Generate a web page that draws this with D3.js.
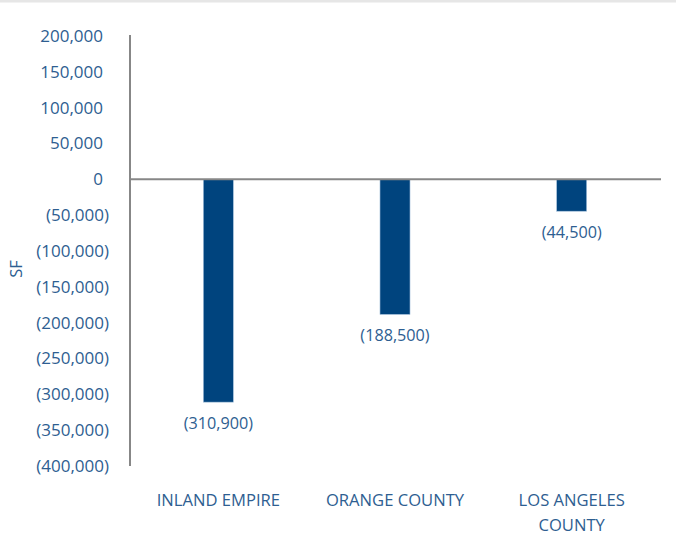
<!DOCTYPE html>
<html>
<head>
<meta charset="utf-8">
<script src="https://cdn.jsdelivr.net/npm/d3@7"></script>
<style>
  html, body { margin: 0; padding: 0; background: #fff; }
  svg { display: block; }
  text { font-family: "Open Sans", "DejaVu Sans", sans-serif; font-weight: 400; fill: #2e5e91; }
</style>
</head>
<body>
<svg id="chart" width="676" height="539"></svg>
<script>
// Net absorption by market (square feet)
const categories = ["INLAND EMPIRE", "ORANGE COUNTY", "LOS ANGELES COUNTY"];
const categoryLines = [["INLAND EMPIRE"], ["ORANGE COUNTY"], ["LOS ANGELES", "COUNTY"]];
const values = [-310900, -188500, -44500];
const tickValues = [200000, 150000, 100000, 50000, 0, -50000, -100000, -150000, -200000, -250000, -300000, -350000, -400000];

const W = 676, H = 539;
const margin = { top: 36, right: 16, bottom: 73, left: 130 };
const svg = d3.select("#chart");

// thin grey band along the top edge
svg.append("rect").attr("x", 0).attr("y", 0).attr("width", W).attr("height", 2.5).attr("fill", "#e6e6e6");

const x = d3.scaleBand()
  .domain(categories)
  .range([margin.left, W - margin.right])
  .paddingInner(0.83)
  .paddingOuter(0.415);

const y = d3.scaleLinear()
  .domain([-400000, 200000])
  .range([H - margin.bottom, margin.top]);

const fmt = v => {
  const s = d3.format(",")(Math.abs(v));
  return v < 0 ? "(" + s + ")" : s;
};

// y axis (accounting style: digits aligned, closing parenthesis hangs right)
const yAxis = svg.append("g")
  .attr("transform", `translate(${margin.left},0)`)
  .call(d3.axisLeft(y).tickValues(tickValues).tickFormat(fmt).tickSize(0).tickPadding(21));
yAxis.select(".domain").attr("stroke", "#878787").attr("stroke-width", 2)
  .attr("d", `M0,${y(200000) - 1}V${y(-400000)}`);
yAxis.selectAll("text")
  .style("font-size", "17px")
  .attr("fill", null)
  .attr("dx", d => d >= 0 ? -6 : 0);

// bars
svg.append("g").selectAll("rect")
  .data(values)
  .join("rect")
  .attr("x", (d, i) => x(categories[i]))
  .attr("width", x.bandwidth())
  .attr("y", d => y(Math.max(0, d)))
  .attr("height", d => Math.abs(y(d) - y(0)))
  .attr("fill", "#00447e")
  .attr("stroke", "#a9c4de")
  .attr("stroke-width", 0.6);

// zero line
svg.append("line")
  .attr("x1", margin.left).attr("x2", W - margin.right + 1)
  .attr("y1", y(0)).attr("y2", y(0))
  .attr("stroke", "#878787").attr("stroke-width", 2);

// value labels below bars
svg.append("g").selectAll("text")
  .data(values)
  .join("text")
  .attr("x", (d, i) => x(categories[i]) + x.bandwidth() / 2)
  .attr("y", d => y(d) + 21)
  .attr("dy", "0.35em")
  .attr("text-anchor", "middle")
  .style("font-size", "16.2px")
  .text(fmt);

// category labels
const cat = svg.append("g").selectAll("text")
  .data(categoryLines)
  .join("text")
  .attr("text-anchor", "middle")
  .style("font-size", "16.6px")
  .attr("transform", (d, i) => `translate(${x(categories[i]) + x.bandwidth() / 2},500)`);
cat.selectAll("tspan")
  .data(d => d)
  .join("tspan")
  .attr("x", 0)
  .attr("y", (d, j) => j * 25)
  .attr("dy", "0.35em")
  .text(d => d);

// axis title
svg.append("text")
  .attr("transform", "translate(16,269) rotate(-90)")
  .attr("text-anchor", "middle")
  .attr("dy", "0.35em")
  .style("font-size", "16.5px")
  .text("SF");
</script>
</body>
</html>
